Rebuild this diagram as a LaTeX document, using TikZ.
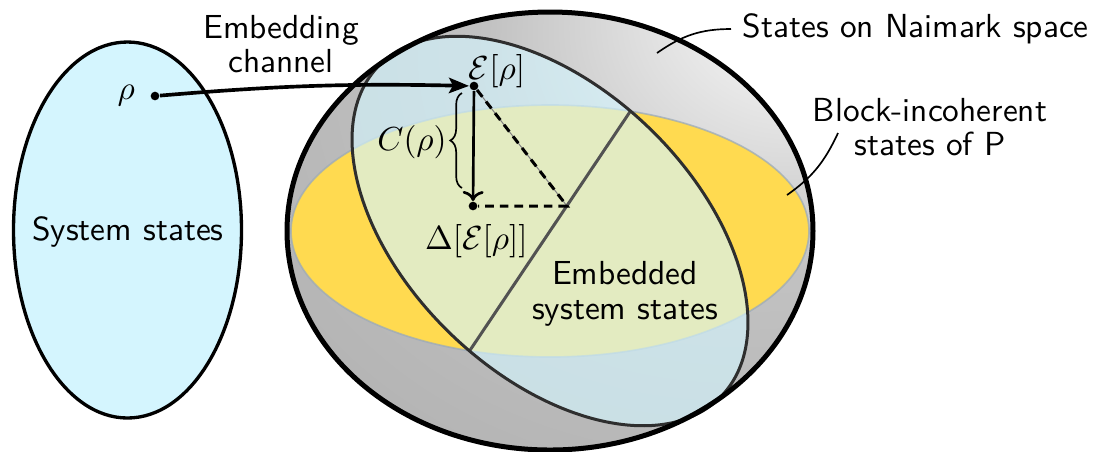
\documentclass[tikz,border=0pt]{standalone}
\usepackage{amsmath,amssymb}
\usepackage{tikz}
\usetikzlibrary{positioning,arrows.meta,decorations.pathreplacing}
\definecolor{sysblue}{RGB}{212,245,254}
\definecolor{incyellow}{RGB}{255,218,80}
\definecolor{rimgray}{RGB}{150,168,190}
\pgfdeclareradialshading{naimark}{\pgfpoint{27bp}{29bp}}{color(0bp)=(white);
  color(7bp)=(gray!10); color(26bp)=(gray!48); color(50bp)=(gray!60);
  color(100bp)=(gray!61)}
\begin{document}
\begin{tikzpicture}[x=0.3pt,y=-0.3pt,font=\sffamily,>={To[length=3pt]},
  txt/.style={align=center,font=\sffamily\fontsize{10}{10.3}\selectfont},
  dot/.style={circle,fill=black,inner sep=0pt,minimum size=2.6pt},
  lead/.style={line width=0.5pt}]
\useasboundingbox (0,0) rectangle (1093,451);
% ball of states on the Naimark space
\shade[shading=naimark] (550,231) ellipse [x radius=263,y radius=219];
\fill[incyellow] (550,231) ellipse [x radius=259,y radius=126];
\draw[rimgray,line width=0.5pt,opacity=0.7] (550,231)
  ellipse [x radius=259,y radius=126];
\fill[sysblue,fill opacity=0.65,rotate around={-44:(550,231)}] (550,231)
  ellipse [x radius=238,y radius=143];
\coordinate (chordtop) at (630.5,111);
\coordinate (chordbot) at (469.5,351);
\draw[black!68,line width=0.9pt] (chordbot) -- (chordtop);
\draw[black!82,line width=0.9pt,rotate around={-44:(550,231)}] (550,231)
  ellipse [x radius=238,y radius=143];
\draw[line width=1.5pt] (550,231) ellipse [x radius=263,y radius=219];
% system states
\draw[line width=1pt,fill=sysblue] (127.5,230)
  ellipse [x radius=114,y radius=188];
\node (sysstates) at (128,232) {System states};
\node[dot] (rho) at (155,96) {};
\node[left=1pt of rho] (rholab) {$\rho$};
\node[txt] (channel) at (281,44) {Embedding\\channel};
% embedding and dephasing
\node[dot] (embrho) at (474,86) {};
\node[dot] (deph) at (473,206) {};
\coordinate (tri) at (567,206);
\node (embrholab) at (497,71) {$\mathcal{E}[\rho]$};
\node[below=0.5pt of deph,xshift=1pt] (dephlab) {$\Delta[\mathcal{E}[\rho]]$};
\draw[line width=1.1pt,-{Stealth[length=6pt,width=4.6pt,inset=1.2pt]}]
  (rho) to[bend left=3] (embrho);
\draw[->,line width=0.8pt] (embrho) -- (deph);
\draw[gray,line width=0.3pt] (embrho) -- (tri);
\draw[line width=0.9pt,dash pattern=on 2.6pt off 1.8pt] (embrho) -- (tri)
  -- (deph);
\draw[decorate,decoration={brace,amplitude=3.5pt},line width=0.5pt]
  (462,188) -- (462,93);
\node (coh) at (412,142) {$C(\rho)$};
\node[txt] (embedded) at (625,294) {Embedded\\system states};
% labels on the right
\node[anchor=west] (naimark) at (731,29) {States on Naimark space};
\coordinate (naimarkpt) at (657,53);
\draw[lead] (naimark.west) to[out=180,in=35] (naimarkpt);
\node[txt] (blockinc) at (930,127) {Block-incoherent\\states of P};
\coordinate (blocktail) at (838,133);
\coordinate (blockpt) at (787,195);
\draw[lead] (blocktail) to[out=-115,in=35] (blockpt);
\end{tikzpicture}
\end{document}
